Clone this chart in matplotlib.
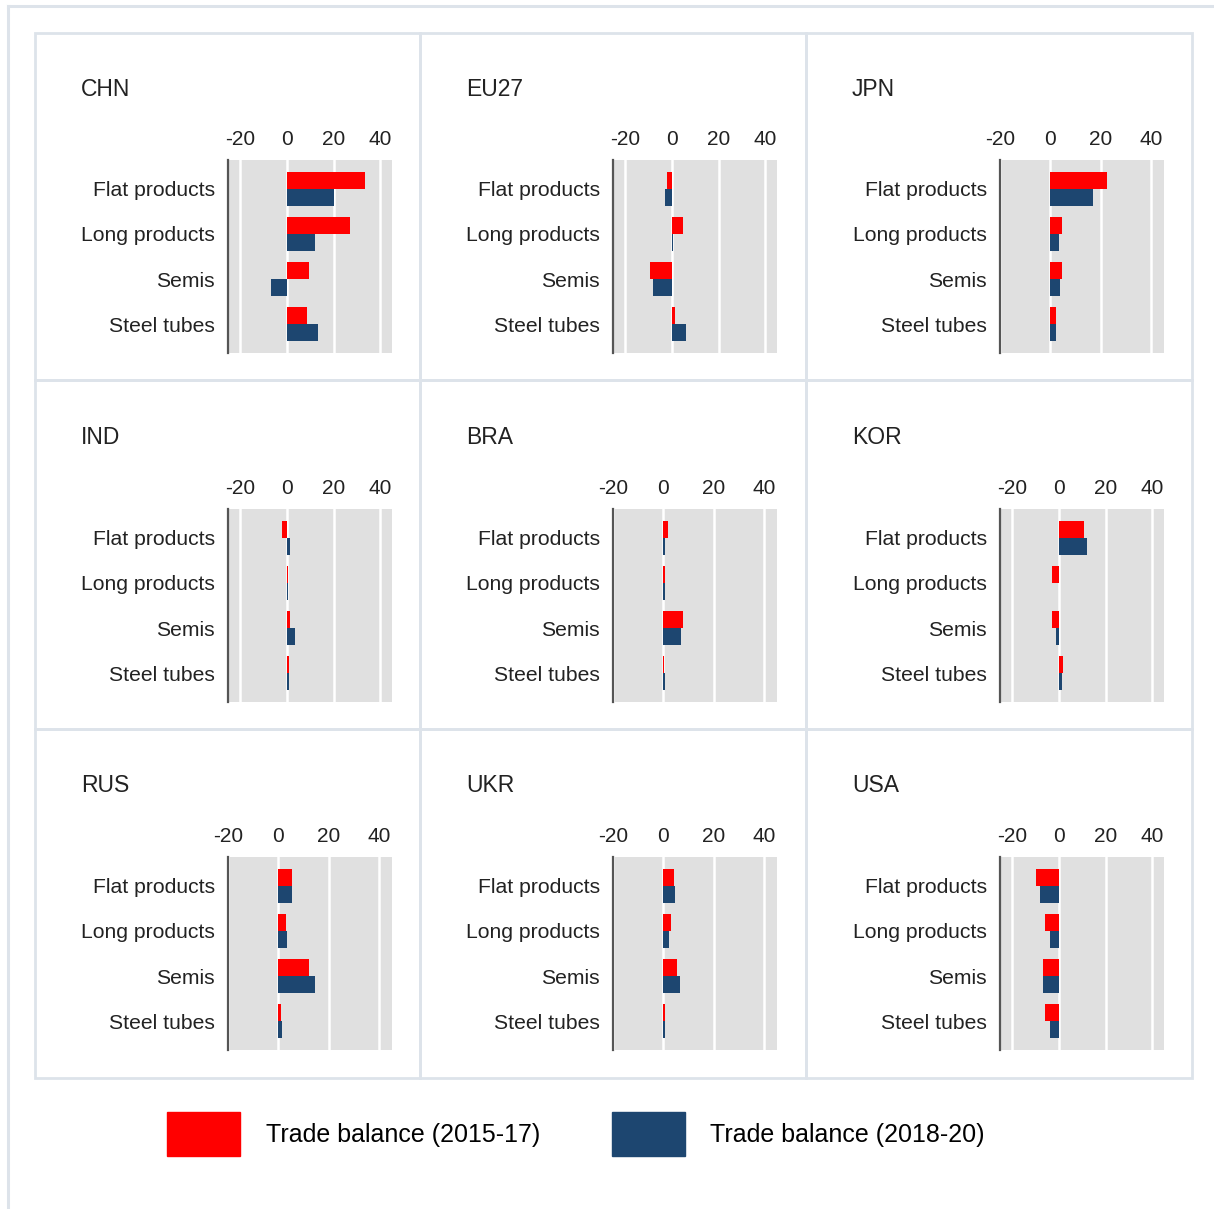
import numpy as np
import matplotlib
matplotlib.use("Agg")
import matplotlib.pyplot as plt
from matplotlib.patches import Patch, Rectangle
from matplotlib.lines import Line2D

plt.rcParams['font.family'] = ['Liberation Sans', 'DejaVu Sans']

countries = ['CHN', 'EU27', 'JPN', 'IND', 'BRA', 'KOR', 'RUS', 'UKR', 'USA']
products = ['Flat products', 'Long products', 'Semis', 'Steel tubes']
ticks = [-20, 0, 20, 40]

# trade balance per country, one row per country, one value per product
bal_2015_17 = [
    [33.3, 27.2, 9.6, 8.6],
    [-2.2, 4.6, -9.4, 1.4],
    [22.4, 4.5, 4.5, 2.2],
    [-2.1, 0.4, 1.3, 1.0],
    [1.8, 0.6, 7.9, 0.3],
    [10.9, -3.0, -3.0, 1.7],
    [5.3, 2.8, 12.1, 1.2],
    [4.3, 2.9, 5.5, 0.8],
    [-9.9, -6.1, -6.8, -6.2],
]
bal_2018_20 = [
    [20.0, 12.2, -6.9, 13.2],
    [-3.1, 0.3, -8.3, 5.8],
    [17.0, 3.2, 3.6, 2.2],
    [1.4, 0.5, 3.6, 0.8],
    [0.8, 0.6, 6.8, 0.8],
    [11.9, 0.2, -1.2, 1.2],
    [5.3, 3.3, 14.3, 1.5],
    [4.7, 2.3, 6.4, 0.7],
    [-8.0, -3.9, -6.8, -3.9],
]
# lower x limit used by each panel
x_lo = [-25.3, -25.3, -20, -25.3, -20, -25.3, -20, -20, -25.3]
x_hi = 45

RED = '#ff0000'
NAVY = '#1d4670'
BORDER = '#dde3ea'

W, H = 1214, 1209
fig = plt.figure(figsize=(W / 100, H / 100), dpi=100)

def fx(px):
    return px / W

def fy(py):
    return 1 - py / H

# outer frame: top and left edge only
fig.add_artist(Line2D([fx(8), 1], [fy(6), fy(6)], color=BORDER, lw=2.2))
fig.add_artist(Line2D([fx(8), fx(8)], [fy(6), 0], color=BORDER, lw=2.2))

# panel boxes
col_edges = [35, 420, 806, 1192]
row_edges = [33, 380, 729, 1078]
for r in range(3):
    for c in range(3):
        x0, x1 = col_edges[c], col_edges[c + 1]
        y0, y1 = row_edges[r], row_edges[r + 1]
        fig.add_artist(Rectangle((fx(x0), fy(y1)), fx(x1 - x0), (y1 - y0) / H,
                                 fill=False, ec=BORDER, lw=2))

ax_left = [228, 613, 1000]
ax_top = [160, 509, 857]
ax_w, ax_h = 164, 193

y = np.arange(len(products))
bh = 0.378

for i, name in enumerate(countries):
    r, c = divmod(i, 3)
    ax = fig.add_axes([fx(ax_left[c]), fy(ax_top[r] + ax_h), ax_w / W, ax_h / H])
    ax.set_facecolor('#e0e0e0')
    ax.barh(y - bh / 2, bal_2015_17[i], height=bh, color=RED, zorder=3)
    ax.barh(y + bh / 2, bal_2018_20[i], height=bh, color=NAVY, zorder=3)
    ax.set_xlim(x_lo[i], x_hi)
    ax.set_ylim(3.644, -0.644)
    ax.set_xticks(ticks)
    ax.set_xticklabels([str(t) for t in ticks])
    ax.xaxis.tick_top()
    ax.grid(axis='x', color='white', lw=1.8, zorder=1)
    ax.set_axisbelow(True)
    ax.set_yticks(y)
    ax.set_yticklabels(products)
    ax.tick_params(axis='x', length=0, pad=8, labelsize=15, labelcolor='#222222')
    ax.tick_params(axis='y', length=0, pad=9.5, labelsize=15.2, labelcolor='#222222')
    for s in ['top', 'right', 'bottom']:
        ax.spines[s].set_visible(False)
    ax.spines['left'].set_color('#555555')
    ax.spines['left'].set_linewidth(1.6)
    ax.spines['left'].set_zorder(4)

    fig.text(fx(col_edges[c] + 46), fy(ax_top[r] - 71), name,
             fontsize=16.5, color='#222222', ha='left', va='center')

handles = [Patch(color=RED, label='Trade balance (2015-17)'),
           Patch(color=NAVY, label='Trade balance (2018-20)')]
fig.legend(handles=handles, loc='center left',
           bbox_to_anchor=(fx(167), fy(1134)), ncol=2, frameon=False,
           fontsize=18, handlelength=2.92, handleheight=2.36,
           handletextpad=1.04, columnspacing=2.85, borderpad=0, borderaxespad=0)

fig.savefig('out.png', dpi=100, facecolor='white')
